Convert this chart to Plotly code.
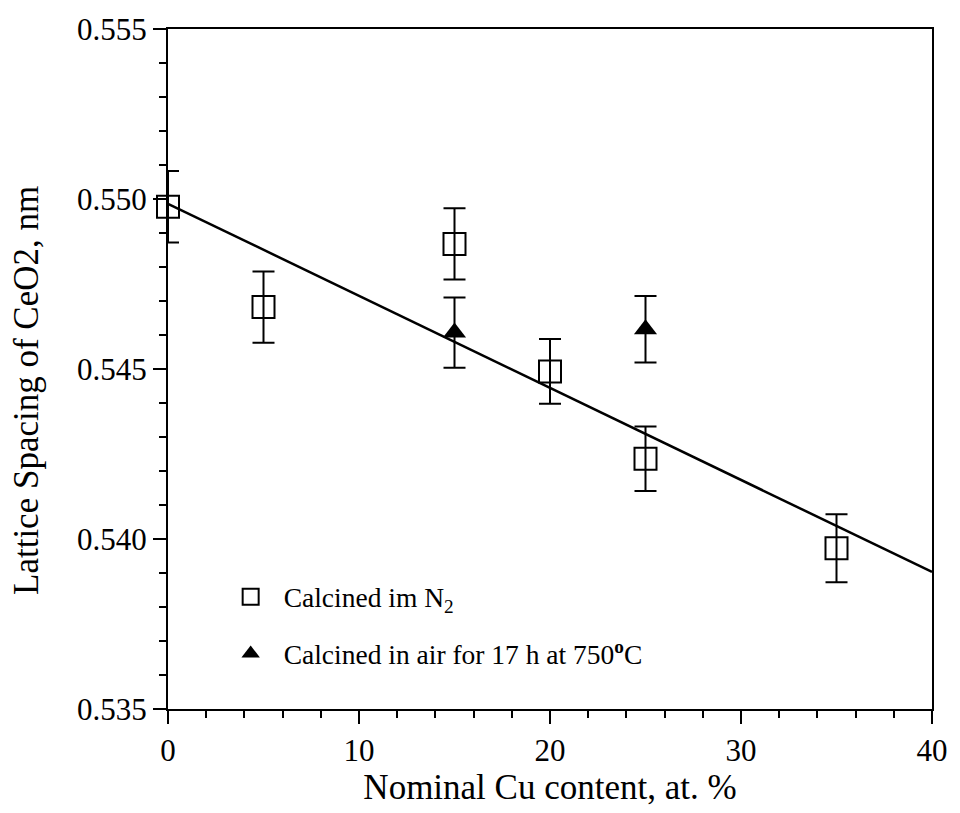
import plotly.graph_objects as go

# Data
n2_x = [0, 5, 15, 20, 25, 35]
n2_y = [0.54977, 0.54682, 0.54868, 0.54493, 0.54236, 0.53973]
n2_err = [0.00105, 0.00105, 0.00105, 0.00095, 0.00095, 0.00100]

air_x = [15, 25]
air_y = [0.54607, 0.54617]
air_err = [0.00103, 0.00098]

fit_x = [0, 40]
fit_y = [0.54986, 0.53903]

x_ticks = [0, 10, 20, 30, 40]
y_ticks = [0.535, 0.540, 0.545, 0.550, 0.555]

FONT = "Liberation Serif"

fig = go.Figure()

fig.add_trace(go.Scatter(
    x=fit_x, y=fit_y, mode="lines",
    line=dict(color="black", width=2.5),
    showlegend=False, cliponaxis=False,
))

fig.add_trace(go.Scatter(
    x=n2_x, y=n2_y, mode="markers",
    name="Calcined im N<sub>2</sub>",
    legendgroup="n2",
    marker=dict(symbol="square-open", size=22, color="black",
                line=dict(color="black", width=2)),
    error_y=dict(type="data", array=n2_err, visible=True,
                 color="black", thickness=2, width=11),
    cliponaxis=False,
))

fig.add_trace(go.Scatter(
    x=air_x, y=air_y, mode="markers",
    name="Calcined in air for 17 h at 750<sup><b>o</b></sup>C",
    legendgroup="air",
    marker=dict(symbol="triangle-up", size=20, color="black"),
    error_y=dict(type="data", array=air_err, visible=True,
                 color="black", thickness=2, width=11),
    cliponaxis=False,
))

axis_common = dict(
    showline=True, linecolor="black", linewidth=2, mirror=True,
    ticks="outside", ticklen=13, tickwidth=2, tickcolor="black",
    showgrid=False, zeroline=False,
    tickfont=dict(family=FONT, size=31, color="black"),
)

fig.update_xaxes(
    range=[0, 40], tickvals=x_ticks,
    ticktext=[str(v) for v in x_ticks],
    minor=dict(dtick=2, ticks="outside", ticklen=7, tickwidth=1.5,
               tickcolor="black", showgrid=False),
    title=dict(text="Nominal Cu content, at. %",
               font=dict(family=FONT, size=35, color="black"), standoff=4),
    **axis_common,
)
fig.update_yaxes(
    range=[0.535, 0.555], tickvals=y_ticks,
    ticktext=[f"{v:.3f}" for v in y_ticks],
    minor=dict(dtick=0.001, ticks="outside", ticklen=7, tickwidth=1.5,
               tickcolor="black", showgrid=False),
    **axis_common,
)

fig.add_annotation(
    text="Lattice Spacing of CeO2, nm",
    xref="paper", yref="paper", x=-0.186, y=0.469,
    xanchor="center", yanchor="middle", textangle=-90, showarrow=False,
    font=dict(family=FONT, size=35, color="black"),
)

fig.update_layout(
    width=960, height=813,
    margin=dict(l=168, r=21, t=22, b=104),
    paper_bgcolor="white", plot_bgcolor="white",
    legend=dict(
        x=0.065, y=0.201, xanchor="left", yanchor="top",
        font=dict(family=FONT, size=27.5, color="black"),
        bgcolor="rgba(0,0,0,0)", itemwidth=56, tracegroupgap=18,
    ),
)

fig.write_html(
    "out.html",
    config={"displayModeBar": False},
    post_script="document.body.style.margin='0';document.body.style.overflow='hidden';",
)
